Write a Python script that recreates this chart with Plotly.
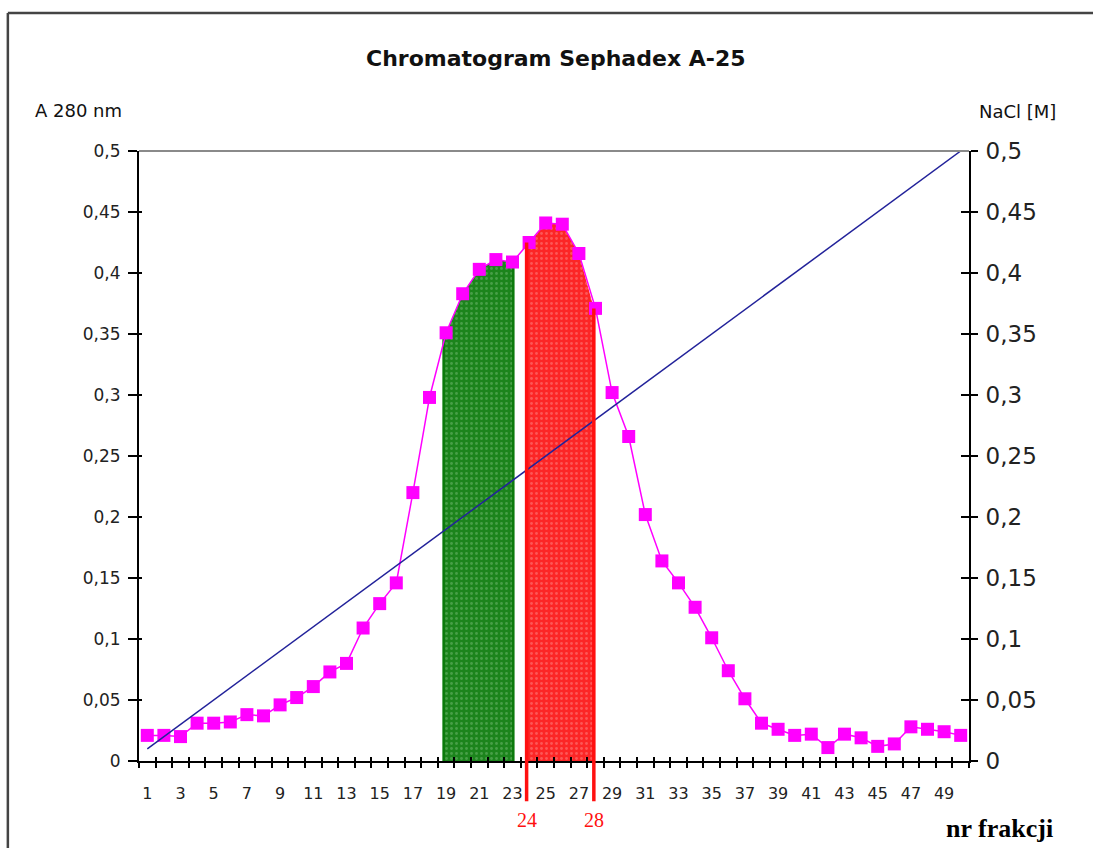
import plotly.graph_objects as go

# ---------------- data ----------------
fractions = list(range(1, 51))
absorbance = [0.021, 0.021, 0.020, 0.031, 0.031, 0.032, 0.038, 0.037, 0.046, 0.052,
              0.061, 0.073, 0.080, 0.109, 0.129, 0.146, 0.220, 0.298, 0.351, 0.383,
              0.403, 0.411, 0.409, 0.425, 0.441, 0.440, 0.416, 0.371, 0.302, 0.266,
              0.202, 0.164, 0.146, 0.126, 0.101, 0.074, 0.051, 0.031, 0.026, 0.021,
              0.022, 0.011, 0.022, 0.019, 0.012, 0.014, 0.028, 0.026, 0.024, 0.021]
nacl = [0.01, 0.02, 0.03, 0.04, 0.05, 0.06, 0.07, 0.08, 0.09, 0.10,
        0.11, 0.12, 0.13, 0.14, 0.15, 0.16, 0.17, 0.18, 0.19, 0.20,
        0.21, 0.22, 0.23, 0.24, 0.25, 0.26, 0.27, 0.28, 0.29, 0.30,
        0.31, 0.32, 0.33, 0.34, 0.35, 0.36, 0.37, 0.38, 0.39, 0.40,
        0.41, 0.42, 0.43, 0.44, 0.45, 0.46, 0.47, 0.48, 0.49, 0.50]
y_tick_vals = [0, 0.05, 0.1, 0.15, 0.2, 0.25, 0.3, 0.35, 0.4, 0.45, 0.5]
y_tick_text = ["0", "0,05", "0,1", "0,15", "0,2", "0,25", "0,3", "0,35", "0,4", "0,45", "0,5"]
x_label_vals = [1, 3, 5, 7, 9, 11, 13, 15, 17, 19, 21, 23, 25, 27, 29, 31, 33, 35, 37, 39,
                41, 43, 45, 47, 49]
green_fracs = [19, 20, 21, 22, 23]
green_bounds = [18.85, 23.05]
red_fracs = [24, 25, 26, 27, 28]
red_bounds = [23.85, 27.9]
red_labels = ["24", "28"]

title_text = "Chromatogram Sephadex A-25"
left_title = "A 280 nm"
right_title = "NaCl [M]"
x_title = "nr frakcji"

# ---------------- helpers ----------------
def A(f):
    return absorbance[fractions.index(f)]

boundaries = [b + 0.5 for b in range(0, 51)]
x_range = [0.5, 50.5]
y_range = [0, 0.5]

fig = go.Figure()

# green shaded fraction area
gx = [green_bounds[0], green_bounds[0]] + green_fracs + [green_bounds[1], green_bounds[1]]
gy = [0, A(green_fracs[0])] + [A(f) for f in green_fracs] + [A(green_fracs[-1]), 0]
fig.add_trace(go.Scatter(x=gx, y=gy, fill="toself", fillcolor="rgb(32,136,32)",
                         fillpattern=dict(shape=".", bgcolor="rgb(28,132,28)",
                                          fgcolor="rgba(190,230,190,0.55)", size=5,
                                          solidity=0.25),
                         line=dict(width=0), mode="lines", hoverinfo="skip", showlegend=False))
for gb, gf in zip(green_bounds, [green_fracs[0], green_fracs[-1]]):
    fig.add_trace(go.Scatter(x=[gb, gb], y=[0, A(gf)], mode="lines",
                             line=dict(color="#0b7a0b", width=2.5), hoverinfo="skip",
                             showlegend=False))

# red shaded fraction area
rx = [red_bounds[0], red_bounds[0]] + red_fracs[:-1] + [red_bounds[1], red_bounds[1]]
ry = [0, A(red_fracs[0])] + [A(f) for f in red_fracs[:-1]] + [A(red_fracs[-1]), 0]
fig.add_trace(go.Scatter(x=rx, y=ry, fill="toself", fillcolor="rgb(252,40,40)",
                         fillpattern=dict(shape=".", bgcolor="rgb(252,38,38)",
                                          fgcolor="rgba(255,200,200,0.6)", size=5,
                                          solidity=0.25),
                         line=dict(width=0), mode="lines", hoverinfo="skip", showlegend=False))

# NaCl gradient line (right axis)
fig.add_trace(go.Scatter(x=fractions, y=nacl, mode="lines", yaxis="y2",
                         line=dict(color="#22229a", width=1.5), showlegend=False))

# absorbance
fig.add_trace(go.Scatter(x=fractions, y=absorbance, mode="lines+markers",
                         line=dict(color="#ff00ff", width=1.5),
                         marker=dict(symbol="square", size=13, color="#ff00ff"),
                         showlegend=False))

# dummy traces so that overlay axes are drawn
for xa, ya in [("x2", "y"), ("x3", "y"), ("x", "y3"), ("x", "y4")]:
    fig.add_trace(go.Scatter(x=[None], y=[None], xaxis=xa, yaxis=ya, showlegend=False,
                             hoverinfo="skip"))

# red vertical marker lines
shapes = []
for rb, rf in zip(red_bounds, [red_fracs[0], red_fracs[-1]]):
    shapes.append(dict(type="line", xref="x", yref="y", x0=rb, x1=rb, y0=0, y1=A(rf),
                       line=dict(color="#ff1010", width=3.5)))
    shapes.append(dict(type="line", xref="x", yref="paper", x0=rb, x1=rb, y0=-0.066, y1=0,
                       line=dict(color="#ff1010", width=3.5)))

# top gray border of plot area
shapes.append(dict(type="line", xref="paper", yref="paper", x0=0, x1=1, y0=1, y1=1,
                   line=dict(color="#8a8a8a", width=2)))
# outer frame of the chart (left and top)
shapes.append(dict(type="line", xref="paper", yref="paper", x0=-0.158, x1=-0.158,
                   y0=-0.2, y1=1.2262, line=dict(color="#444444", width=2.5)))
shapes.append(dict(type="line", xref="paper", yref="paper", x0=-0.158, x1=1.2,
                   y0=1.2262, y1=1.2262, line=dict(color="#444444", width=2.5)))

annotations = [
    dict(text="<b>" + title_text + "</b>", xref="paper", yref="paper", x=0.502, y=1.151,
         showarrow=False, font=dict(family="DejaVu Sans", size=22, color="#111111"),
         xanchor="center", yanchor="middle"),
    dict(text=left_title, xref="paper", yref="paper", x=-0.073, y=1.066, showarrow=False,
         font=dict(family="DejaVu Sans", size=18, color="#111111"),
         xanchor="center", yanchor="middle"),
    dict(text=right_title, xref="paper", yref="paper", x=1.058, y=1.064, showarrow=False,
         font=dict(family="DejaVu Sans", size=18, color="#111111"),
         xanchor="center", yanchor="middle"),
    dict(text="<b>" + x_title + "</b>", xref="paper", yref="paper", x=1.037, y=-0.110,
         showarrow=False, font=dict(family="Liberation Serif", size=26, color="#000000"),
         xanchor="center", yanchor="middle"),
]
for rb, lab in zip(red_bounds, red_labels):
    annotations.append(dict(text=lab, xref="x", yref="paper", x=rb, y=-0.097,
                            showarrow=False,
                            font=dict(family="Liberation Serif", size=20, color="#ff1010"),
                            xanchor="center", yanchor="middle"))

tick_font_l = dict(family="DejaVu Sans", size=17, color="#222222")
tick_font_r = dict(family="DejaVu Sans", size=23, color="#222222")
tick_font_x = dict(family="DejaVu Sans", size=16, color="#222222")

fig.update_layout(
    width=1093, height=848,
    margin=dict(l=139, r=124, t=151, b=87),
    paper_bgcolor="white", plot_bgcolor="white",
    showlegend=False,
    shapes=shapes,
    annotations=annotations,
    xaxis=dict(range=x_range, tickmode="array", tickvals=boundaries, showticklabels=False,
               ticks="outside", ticklen=5, tickwidth=1.5, tickcolor="black",
               showline=True, linecolor="black", linewidth=2, showgrid=False,
               zeroline=False, anchor="y"),
    xaxis2=dict(range=x_range, overlaying="x", side="bottom", anchor="y", tickmode="array",
                tickvals=x_label_vals, ticktext=[str(v) for v in x_label_vals],
                ticks="outside", ticklen=18, tickcolor="rgba(0,0,0,0)",
                tickfont=tick_font_x, showline=False, showgrid=False, zeroline=False),
    xaxis3=dict(range=x_range, overlaying="x", side="bottom", anchor="y", tickmode="array",
                tickvals=boundaries, showticklabels=False, ticks="inside", ticklen=4,
                tickwidth=1.5, tickcolor="black", showline=False, showgrid=False,
                zeroline=False),
    yaxis=dict(range=y_range, tickmode="array", tickvals=y_tick_vals, ticktext=y_tick_text,
               ticks="outside", ticklen=9, tickwidth=1.5, tickcolor="black",
               ticklabelstandoff=4, tickfont=tick_font_l,
               showline=True, linecolor="black", linewidth=2, showgrid=False,
               zeroline=False, anchor="x"),
    yaxis2=dict(range=y_range, overlaying="y", side="right", anchor="x", tickmode="array",
                tickvals=y_tick_vals, ticktext=y_tick_text, ticks="outside", ticklen=7,
                tickwidth=1.5, tickcolor="black", ticklabelstandoff=3,
                tickfont=tick_font_r, showline=True, linecolor="black", linewidth=2,
                showgrid=False, zeroline=False),
    yaxis3=dict(range=y_range, overlaying="y", side="left", anchor="x", tickmode="array",
                tickvals=y_tick_vals, showticklabels=False, ticks="inside", ticklen=3,
                tickwidth=1.5, tickcolor="black", showline=False, showgrid=False,
                zeroline=False),
    yaxis4=dict(range=y_range, overlaying="y", side="right", anchor="x", tickmode="array",
                tickvals=y_tick_vals, showticklabels=False, ticks="inside", ticklen=8,
                tickwidth=1.5, tickcolor="black", showline=False, showgrid=False,
                zeroline=False),
)

fig.write_html("out.html", config=dict(displayModeBar=False),
               post_script="document.body.style.margin='0px';")
